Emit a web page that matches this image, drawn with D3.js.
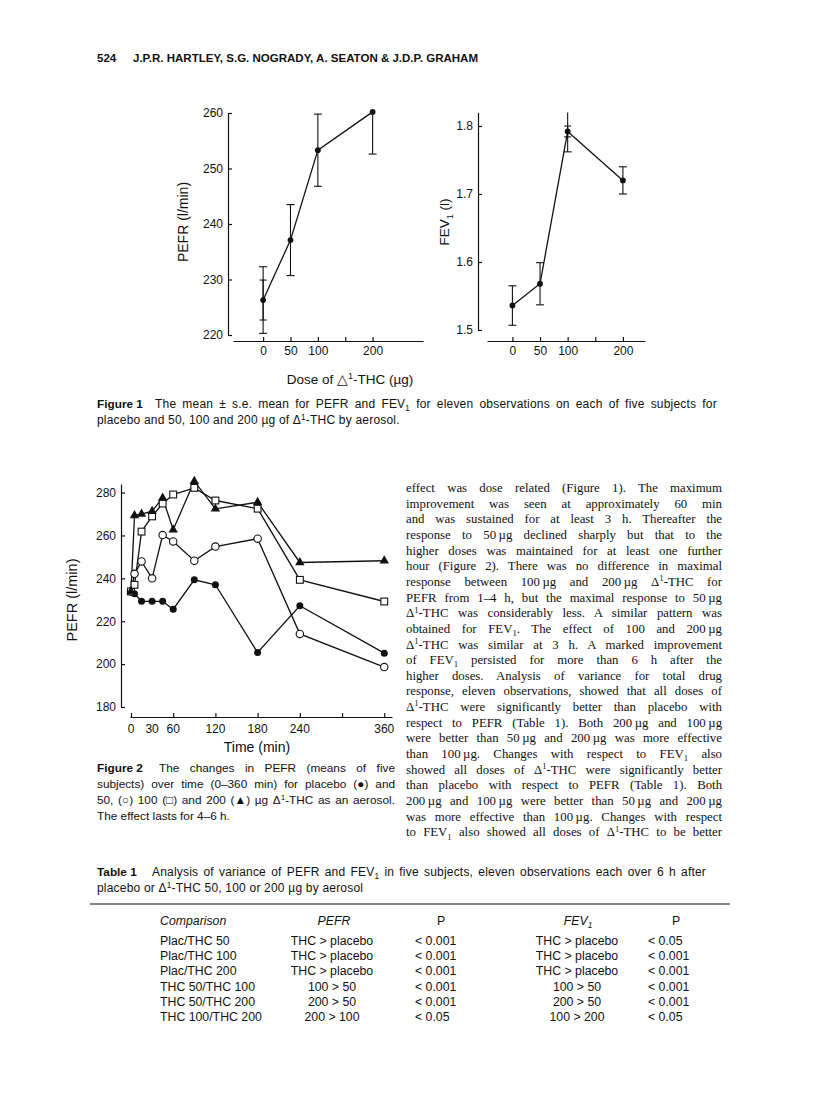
<!DOCTYPE html>
<html><head><meta charset="utf-8">
<script src="https://cdn.jsdelivr.net/npm/d3@7"></script>
<style>
body{margin:0;background:#fff}
text{fill:#111}
.sans{font-family:"Liberation Sans",Arial,sans-serif}
.serif{font-family:"Liberation Serif","Times New Roman",serif}
</style></head><body>
<svg id="page" width="816" height="1120"></svg>
<script>
// ---- Figure 1 : dose response (mean +/- s.e.)
var doses = [0, 50, 100, 200];
var pefrMean = [226.3, 237.1, 253.3, 260.2];
var pefrSe = [6.0, 6.4, 6.5, 7.6];
var pefrSeInner = [3.6, null, null, null];
var fevMean = [1.536, 1.568, 1.792, 1.720];
var fevSe = [0.029, 0.031, 0.030, 0.020];
var fevSeInner = [null, null, 0.008, null];
var doseTicks = [0, 50, 100, 150, 200];
var doseLabels = [0, 50, 100, 200];
var pefrTicks = [220, 230, 240, 250, 260];
var fevTicks = [1.5, 1.6, 1.7, 1.8];

// ---- Figure 2 : PEFR over time
var times = [0, 5, 15, 30, 45, 60, 90, 120, 180, 240, 360];
var placebo = [233.9, 232.8, 229.3, 229.3, 229.3, 225.6, 239.3, 237.0, 205.4, 227.2, 205.1];
var thc50 = [233.9, 242.1, 247.9, 240.0, 260.2, 257.2, 248.2, 254.8, 258.5, 214.1, 198.6];
var thc100 = [233.9, 237.0, 261.8, 268.9, 274.9, 279.1, 282.2, 276.3, 272.5, 239.3, 229.2];
var thc200 = [233.9, 269.3, 270.0, 271.3, 277.5, 262.7, 285.3, 272.4, 275.5, 247.4, 248.2];
var timeTicks = [0, 60, 120, 180, 240, 300, 360];
var timeLabels = [0, 30, 60, 120, 180, 240, 360];
var pefr2Ticks = [180, 200, 220, 240, 260, 280];

// ---- Table 1
var comparisons = ["Plac/THC 50", "Plac/THC 100", "Plac/THC 200", "THC 50/THC 100", "THC 50/THC 200", "THC 100/THC 200"];
var pefrResult = ["THC > placebo", "THC > placebo", "THC > placebo", "100 > 50", "200 > 50", "200 > 100"];
var pefrP = ["< 0.001", "< 0.001", "< 0.001", "< 0.001", "< 0.001", "< 0.05"];
var fevResult = ["THC > placebo", "THC > placebo", "THC > placebo", "100 > 50", "200 > 50", "100 > 200"];
var fevP = ["< 0.05", "< 0.001", "< 0.001", "< 0.001", "< 0.001", "< 0.05"];

// ---- texts (^n superscript, _n subscript)
var bodyLines = [
  "effect was dose related (Figure 1). The maximum",
  "improvement was seen at approximately 60 min",
  "and was sustained for at least 3 h. Thereafter the",
  "response to 50\u2009µg declined sharply but that to the",
  "higher doses was maintained for at least one further",
  "hour (Figure 2). There was no difference in maximal",
  "response between 100\u2009µg and 200\u2009µg Δ^1-THC for",
  "PEFR from 1–4 h, but the maximal response to 50\u2009µg",
  "Δ^1-THC was considerably less. A similar pattern was",
  "obtained for FEV_1. The effect of 100 and 200\u2009µg",
  "Δ^1-THC was similar at 3 h. A marked improvement",
  "of FEV_1 persisted for more than 6 h after the",
  "higher doses. Analysis of variance for total drug",
  "response, eleven observations, showed that all doses of",
  "Δ^1-THC were significantly better than placebo with",
  "respect to PEFR (Table 1). Both 200\u2009µg and 100\u2009µg",
  "were better than 50\u2009µg and 200\u2009µg was more effective",
  "than 100\u2009µg. Changes with respect to FEV_1 also",
  "showed all doses of Δ^1-THC were significantly better",
  "than placebo with respect to PEFR (Table 1). Both",
  "200\u2009µg and 100\u2009µg were better than 50\u2009µg and 200\u2009µg",
  "was more effective than 100\u2009µg. Changes with respect",
  "to FEV_1 also showed all doses of Δ^1-THC to be better"
];
var fig1Caption = ["The mean ± s.e. mean for PEFR and FEV_1 for eleven observations on each of five subjects for",
  "placebo and 50, 100 and 200 µg of Δ^1-THC by aerosol."];
var fig2Caption = ["The changes in PEFR (means of five",
  "subjects) over time (0–360 min) for placebo (●) and",
  "50, (○) 100 (□) and 200 (▲) µg Δ^1-THC as an aerosol.",
  "The effect lasts for 4–6 h."];
var tableCaption = ["Analysis of variance of PEFR and FEV_1 in five subjects, eleven observations each over 6 h after",
  "placebo or Δ^1-THC 50, 100 or 200 µg by aerosol"];

var svg = d3.select('#page');

/* writes str into a text selection, handling ^1 / _1 */
function rich(sel, str, size){
  var parts = str.split(/(\^[0-9]|_[0-9])/), shift = 0;
  parts.forEach(function(p){
    if(!p) return;
    if(p[0] == '^' || p[0] == '_'){
      var dy = p[0] == '^' ? -0.36*size : 0.26*size;
      sel.append('tspan').attr('dy', dy - shift).attr('font-size', size*0.68).text(p.slice(1));
      shift = dy;
    }else{
      sel.append('tspan').attr('dy', -shift).text(p);
      shift = 0;
    }
  });
  return sel;
}
function line(x, y, str, cls, size){
  var t = svg.append('text').attr('class', cls).attr('x', x).attr('y', y).attr('font-size', size);
  return rich(t, str, size);
}
// stretch spaces so the line ends at x1
function justify(t, x0, x1){
  var node = t.node();
  var n = (node.textContent.match(/ /g) || []).length;
  if(!n) return t;
  var w = node.getComputedTextLength();
  t.attr('word-spacing', ((x1 - x0 - w)/n).toFixed(2));
  return t;
}

// ---------- header
line(97, 62, "524", 'sans', 11.5).attr('font-weight', 'bold');
line(133, 62, "J.P.R. HARTLEY, S.G. NOGRADY, A. SEATON & J.D.P. GRAHAM", 'sans', 11.5)
  .attr('font-weight', 'bold').attr('textLength', 345).attr('lengthAdjust', 'spacingAndGlyphs');

// ---------- Figure 1
function dosePanel(o){
  var x = d3.scaleLinear().domain(o.xDom).range(o.xRange);
  var y = d3.scaleLinear().domain(o.yDom).range(o.yRange);
  var g = svg.append('g').attr('class', 'sans');

  var ya = g.append('g').attr('transform', 'translate(' + o.yAxisX + ',0)')
    .call(d3.axisLeft(y).tickValues(o.yTicks).tickSize(-4).tickSizeOuter(0).tickPadding(5).tickFormat(o.fmt));
  var xa = g.append('g').attr('transform', 'translate(0,' + o.xAxisY + ')')
    .call(d3.axisBottom(x).tickValues(doseTicks).tickSize(-4).tickSizeOuter(0).tickPadding(5)
      .tickFormat(function(d){ return doseLabels.indexOf(d) < 0 ? '' : d; }));
  [ya, xa].forEach(function(a){
    a.selectAll('path,line').attr('stroke', '#111').attr('stroke-width', 1.2);
    a.selectAll('text').attr('font-size', 12).attr('fill', '#111').attr('font-family', null);
  });

  var yTop = o.yDom[1];
  doses.forEach(function(d, i){
    var cx = x(d);
    [[o.se[i], 8], [o.seInner[i], 7]].forEach(function(e){
      if(e[0] == null) return;
      var lo = o.mean[i] - e[0], hi = o.mean[i] + e[0];
      g.append('line').attr('x1', cx).attr('x2', cx)
        .attr('y1', y(lo)).attr('y2', y(Math.min(hi, yTop)))
        .attr('stroke', '#111').attr('stroke-width', 1.1);
      [lo, hi].forEach(function(v){
        if(v > yTop) return;
        g.append('line').attr('x1', cx - e[1]/2).attr('x2', cx + e[1]/2)
          .attr('y1', y(v)).attr('y2', y(v)).attr('stroke', '#111').attr('stroke-width', 1.1);
      });
    });
  });
  g.append('path').datum(doses)
    .attr('d', d3.line().x(function(d){ return x(d); }).y(function(d, i){ return y(o.mean[i]); }))
    .attr('fill', 'none').attr('stroke', '#111').attr('stroke-width', 1.3);
  g.selectAll('circle.pt').data(doses).enter().append('circle')
    .attr('cx', function(d){ return x(d); }).attr('cy', function(d, i){ return y(o.mean[i]); })
    .attr('r', 2.9).attr('fill', '#111');

  g.append('text').attr('transform', 'translate(' + o.labelX + ',' + o.labelY + ') rotate(-90)')
    .attr('text-anchor', 'middle').attr('font-size', o.labelSize).call(function(t){ rich(t, o.label, o.labelSize); });
}

dosePanel({
  xDom: [-55, 292], xRange: [233, 423], yDom: [220, 260], yRange: [335, 113],
  yAxisX: 228, xAxisY: 341, yTicks: pefrTicks, fmt: d3.format('d'),
  mean: pefrMean, se: pefrSe, seInner: pefrSeInner,
  label: "PEFR (l/min)", labelX: 188, labelY: 222, labelSize: 14
});
dosePanel({
  xDom: [-46, 240], xRange: [487, 645], yDom: [1.5, 1.82], yRange: [330, 112.4],
  yAxisX: 478, xAxisY: 341, yTicks: fevTicks, fmt: d3.format('.1f'),
  mean: fevMean, se: fevSe, seInner: fevSeInner,
  label: "FEV_1 (l)", labelX: 449, labelY: 222, labelSize: 13.5
});
line(350, 384, "Dose of △^1-THC (µg)", 'sans', 13.5).attr('text-anchor', 'middle');

line(97, 408, "Figure 1", 'sans', 11.8).attr('font-weight', 'bold');
justify(line(155, 408, fig1Caption[0], 'sans', 12).attr('letter-spacing', 0.2), 155, 717);
line(97, 424, fig1Caption[1], 'sans', 12).attr('letter-spacing', 0.2);

// ---------- Figure 2
(function(){
  var x = d3.scaleLinear().domain([-1.4, 371]).range([130, 392]);
  var y = d3.scaleLinear().domain([180, 284]).range([707, 484]);
  var g = svg.append('g').attr('class', 'sans');

  var ya = g.append('g').attr('transform', 'translate(121,0)')
    .call(d3.axisLeft(y).tickValues(pefr2Ticks).tickSize(-4).tickSizeOuter(0).tickPadding(5));
  var xa = g.append('g').attr('transform', 'translate(0,717)')
    .call(d3.axisBottom(x).tickValues(timeTicks).tickSize(-4).tickSizeOuter(0).tickFormat(''));
  [ya, xa].forEach(function(a){
    a.selectAll('path,line').attr('stroke', '#111').attr('stroke-width', 1.2);
    a.selectAll('text').attr('font-size', 12).attr('fill', '#111').attr('font-family', null);
  });
  g.selectAll('text.tl').data(timeLabels).enter().append('text')
    .attr('x', function(d){ return x(d); }).attr('y', 733).attr('text-anchor', 'middle')
    .attr('font-size', 12).text(function(d){ return d; });
  g.append('text').attr('x', 257).attr('y', 752).attr('text-anchor', 'middle').attr('font-size', 14).text('Time (min)');
  g.append('text').attr('transform', 'translate(77,600) rotate(-90)').attr('text-anchor', 'middle')
    .attr('font-size', 14.5).text('PEFR (l/min)');

  var series = [
    {v: placebo, m: 'dot'}, {v: thc50, m: 'ring'}, {v: thc100, m: 'square'}, {v: thc200, m: 'tri'}
  ];
  var ln = d3.line().x(function(d, i){ return x(times[i]); }).y(function(d){ return y(d); });
  series.forEach(function(s){
    g.append('path').datum(s.v).attr('d', ln).attr('fill', 'none')
      .attr('stroke', '#111').attr('stroke-width', 1.3);
  });
  series.forEach(function(s){
    var pts = g.selectAll(null).data(s.v).enter();
    var px = function(d, i){ return x(times[i]); }, py = function(d){ return y(d); };
    if(s.m == 'dot'){
      pts.append('circle').attr('cx', px).attr('cy', py).attr('r', 3.5).attr('fill', '#111');
    }else if(s.m == 'ring'){
      pts.append('circle').attr('cx', px).attr('cy', py).attr('r', 3.7)
        .attr('fill', '#fff').attr('stroke', '#111').attr('stroke-width', 1.1);
    }else if(s.m == 'square'){
      pts.append('rect').attr('x', function(d, i){ return px(d, i) - 3.4; }).attr('y', function(d){ return py(d) - 3.4; })
        .attr('width', 6.8).attr('height', 6.8).attr('fill', '#fff').attr('stroke', '#111').attr('stroke-width', 1.1);
    }else{
      pts.append('path').attr('transform', function(d, i){ return 'translate(' + px(d, i) + ',' + py(d) + ')'; })
        .attr('d', d3.symbol().type(d3.symbolTriangle).size(38)).attr('fill', '#111');
    }
  });
})();

line(97, 772, "Figure 2", 'sans', 11.8).attr('font-weight', 'bold');
justify(line(159, 772, fig2Caption[0], 'sans', 11.8), 159, 395);
justify(line(97, 788, fig2Caption[1], 'sans', 11.8), 97, 395);
justify(line(97, 804, fig2Caption[2], 'sans', 11.8), 97, 395);
line(97, 820, fig2Caption[3], 'sans', 11.8);

// ---------- body text column
bodyLines.forEach(function(s, i){
  justify(line(406, 492 + i*15.65, s, 'serif', 12.8), 406, 722);
});

// ---------- Table 1
line(97, 876, "Table 1", 'sans', 11.8).attr('font-weight', 'bold');
justify(line(152, 876, tableCaption[0], 'sans', 12).attr('letter-spacing', 0.2), 152, 706);
line(97, 892, tableCaption[1], 'sans', 12).attr('letter-spacing', 0.2);
svg.append('line').attr('x1', 90).attr('x2', 730).attr('y1', 904).attr('y2', 904)
  .attr('stroke', '#111').attr('stroke-width', 1.2);

line(160, 925, "Comparison", 'sans', 12.3).attr('font-style', 'italic');
line(334, 925, "PEFR", 'sans', 12.3).attr('font-style', 'italic').attr('text-anchor', 'middle');
line(441, 925, "P", 'sans', 12.3).attr('text-anchor', 'middle');
line(578, 925, "FEV_1", 'sans', 12.3).attr('font-style', 'italic').attr('text-anchor', 'middle');
line(676, 925, "P", 'sans', 12.3).attr('text-anchor', 'middle');

var rowY = d3.scalePoint().domain(comparisons).range([945, 1021]);
comparisons.forEach(function(c, i){
  var yy = rowY(c);
  line(160, yy, c, 'sans', 12.3);
  line(332, yy, pefrResult[i], 'sans', 12.3).attr('text-anchor', 'middle');
  line(415, yy, pefrP[i], 'sans', 12.3);
  line(577, yy, fevResult[i], 'sans', 12.3).attr('text-anchor', 'middle');
  line(648, yy, fevP[i], 'sans', 12.3);
});
</script>
</body></html>
